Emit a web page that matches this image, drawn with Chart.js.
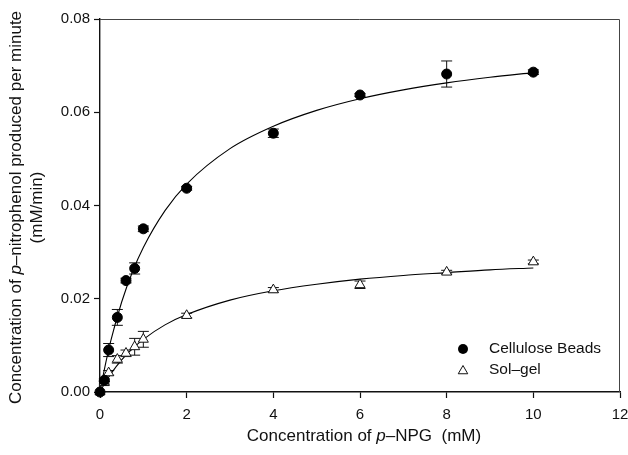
<!DOCTYPE html>
<html>
<head>
<meta charset="utf-8">
<script src="https://cdn.jsdelivr.net/npm/chart.js@4/dist/chart.umd.min.js"></script>
<style>
  html, body { margin: 0; padding: 0; background: #fff; }
  #wrap { width: 628px; height: 455px; }
</style>
</head>
<body>
<div id="wrap"><canvas id="kinetics"></canvas></div>
<script>
// substrate concentrations (mM)
const concX = [0, 0.1, 0.2, 0.4, 0.6, 0.8, 1, 2, 4, 6, 8, 10];

// measured rates (mM/min) with error bars
const celluloseY   = [0, 0.0025, 0.0090, 0.0160, 0.0239, 0.0265, 0.0350, 0.0437, 0.0555, 0.0637, 0.0682, 0.0686];
const celluloseErr = [0, 0.0003, 0.0014, 0.0017, 0.0005, 0.0012, 0.0006, 0.0004, 0.0009, 0.0003, 0.0028, 0.0005];
const solgelY      = [0, 0.0020, 0.0041, 0.0070, 0.0083, 0.0097, 0.0113, 0.0164, 0.0219, 0.0230, 0.0257, 0.0279];
const solgelErr    = [0, 0.0003, 0.0005, 0.0008, 0.0007, 0.0018, 0.0017, 0.0005, 0.0005, 0.0008, 0.0004, 0.0004];

// fitted curves
const curveX         = [0, 0.1, 0.25, 0.5, 0.75, 1, 1.5, 2, 3, 4, 5, 6, 7, 8, 9, 10];
const celluloseCurve = [0, 0.0048, 0.0110, 0.0193, 0.0258, 0.0310, 0.0389, 0.0446, 0.0522, 0.0570, 0.0604, 0.0629, 0.0648, 0.0663, 0.0675, 0.0685];
const solgelCurve    = [0, 0.0017, 0.0039, 0.0069, 0.0093, 0.0113, 0.0144, 0.0166, 0.0197, 0.0217, 0.0231, 0.0242, 0.0250, 0.0256, 0.0262, 0.0266];

const xTicks = [0, 2, 4, 6, 8, 10, 12];
const yTicks = [0, 0.02, 0.04, 0.06, 0.08];

const legendLabels = ['Cellulose Beads', 'Sol\u2013gel'];
const xTitle = [['Concentration of ', false], ['p', true], ['\u2013NPG  (mM)', false]];
const yTitle1 = [['Concentration of ', false], ['p', true], ['\u2013nitrophenol produced per minute', false]];
const yTitle2 = [['(mM/min)', false]];

const FONT = '"Liberation Sans", Arial, sans-serif';
const INK = '#111';

function pts(xs, ys) {
    return xs.map((x, i) => ({ x: x, y: ys[i] }));
}

function drawRich(ctx, parts, cx, cy, size) {
    let total = 0;
    parts.forEach(p => {
        ctx.font = (p[1] ? 'italic ' : '') + size + 'px ' + FONT;
        total += ctx.measureText(p[0]).width;
    });
    let x = cx - total / 2;
    ctx.textAlign = 'left';
    ctx.textBaseline = 'middle';
    parts.forEach(p => {
        ctx.font = (p[1] ? 'italic ' : '') + size + 'px ' + FONT;
        ctx.fillText(p[0], x, cy);
        x += ctx.measureText(p[0]).width;
    });
}

function drawTriangle(ctx, x, y, r) {
    ctx.beginPath();
    ctx.moveTo(x, y - r);
    ctx.lineTo(x + r * 0.866, y + r * 0.5);
    ctx.lineTo(x - r * 0.866, y + r * 0.5);
    ctx.closePath();
    ctx.fillStyle = '#fff';
    ctx.fill();
    ctx.stroke();
}

// error bars behind the markers
const errorBars = {
    id: 'errorBars',
    beforeDatasetsDraw(chart) {
        const ctx = chart.ctx;
        const yScale = chart.scales.y;
        ctx.save();
        ctx.strokeStyle = INK;
        ctx.lineWidth = 1;
        chart.data.datasets.forEach((ds, i) => {
            if (!ds.errors) return;
            const meta = chart.getDatasetMeta(i);
            ds.data.forEach((p, j) => {
                const e = ds.errors[j];
                if (!e) return;
                const px = meta.data[j].x;
                const top = yScale.getPixelForValue(p.y + e);
                const bot = yScale.getPixelForValue(p.y - e);
                ctx.beginPath();
                ctx.moveTo(px, top); ctx.lineTo(px, bot);
                ctx.moveTo(px - 5.5, top); ctx.lineTo(px + 5.5, top);
                ctx.moveTo(px - 5.5, bot); ctx.lineTo(px + 5.5, bot);
                ctx.stroke();
            });
        });
        ctx.restore();
    }
};

// frame, axis titles and inset legend
const decorations = {
    id: 'decorations',
    afterDraw(chart) {
        const ctx = chart.ctx;
        const a = chart.chartArea;
        ctx.save();
        ctx.strokeStyle = '#444';
        ctx.lineWidth = 1;
        ctx.beginPath();
        ctx.moveTo(a.left, a.top + 0.5);
        ctx.lineTo(a.right - 0.5, a.top + 0.5);
        ctx.lineTo(a.right - 0.5, a.bottom);
        ctx.stroke();

        ctx.fillStyle = INK;
        drawRich(ctx, xTitle, (a.left + a.right) / 2 + 4, 436, 17);

        const yc = (a.top + a.bottom) / 2 + 2;
        ctx.save();
        ctx.translate(16, yc);
        ctx.rotate(-Math.PI / 2);
        drawRich(ctx, yTitle1, 0, 0, 17);
        ctx.restore();
        ctx.save();
        ctx.translate(37, yc);
        ctx.rotate(-Math.PI / 2);
        drawRich(ctx, yTitle2, 0, 0, 17);
        ctx.restore();

        // legend
        const mx = a.right - 157;
        const tx = a.right - 131;
        const rows = [a.bottom - 43, a.bottom - 22];
        ctx.fillStyle = '#000';
        ctx.beginPath();
        ctx.arc(mx, rows[0], 5, 0, Math.PI * 2);
        ctx.fill();
        ctx.strokeStyle = INK;
        ctx.lineWidth = 1;
        drawTriangle(ctx, mx, rows[1] + 1, 5.5);
        ctx.fillStyle = INK;
        ctx.font = '15.5px ' + FONT;
        ctx.textAlign = 'left';
        ctx.textBaseline = 'middle';
        ctx.fillText(legendLabels[0], tx, rows[0]);
        ctx.fillText(legendLabels[1], tx, rows[1]);
        ctx.restore();
    }
};

const ctx = document.getElementById('kinetics').getContext('2d');

new Chart(ctx, {
    type: 'scatter',
    data: {
        datasets: [
            {
                label: legendLabels[0],
                data: pts(concX, celluloseY),
                errors: celluloseErr,
                pointStyle: 'circle',
                pointRadius: 5,
                backgroundColor: '#000',
                borderColor: '#000',
                borderWidth: 1,
                clip: false,
                order: 0
            },
            {
                label: legendLabels[1],
                data: pts(concX, solgelY),
                errors: solgelErr,
                pointStyle: 'triangle',
                pointRadius: 5.8,
                backgroundColor: '#fff',
                borderColor: INK,
                borderWidth: 1,
                clip: false,
                order: 0
            },
            {
                type: 'line',
                label: 'cellulose fit',
                data: pts(curveX, celluloseCurve),
                borderColor: '#000',
                borderWidth: 1.1,
                pointRadius: 0,
                cubicInterpolationMode: 'monotone',
                fill: false,
                order: 2
            },
            {
                type: 'line',
                label: 'sol-gel fit',
                data: pts(curveX, solgelCurve),
                borderColor: '#000',
                borderWidth: 1.1,
                pointRadius: 0,
                cubicInterpolationMode: 'monotone',
                fill: false,
                order: 2
            }
        ]
    },
    options: {
        responsive: true,
        maintainAspectRatio: false,
        animation: false,
        layout: {
            padding: { left: 0, right: 8, top: 19, bottom: 0 }
        },
        plugins: {
            legend: { display: false },
            tooltip: { enabled: false }
        },
        scales: {
            x: {
                type: 'linear',
                min: 0,
                max: 12,
                afterBuildTicks: s => { s.ticks = xTicks.map(v => ({ value: v })); },
                afterFit: s => {
                    s.height = 63;
                    s.paddingLeft = 0;
                    s.paddingRight = 0;
                },
                ticks: {
                    color: INK,
                    padding: 8,
                    font: { family: FONT, size: 15 }
                },
                grid: {
                    drawOnChartArea: false,
                    drawTicks: true,
                    tickLength: 6,
                    tickColor: INK,
                    tickWidth: 1.2
                },
                border: { display: true, color: INK, width: 1.4 }
            },
            y: {
                min: 0,
                max: 0.08,
                afterBuildTicks: s => { s.ticks = yTicks.map(v => ({ value: v })); },
                afterFit: s => {
                    s.width = 100;
                    s.paddingTop = 0;
                    s.paddingBottom = 0;
                },
                ticks: {
                    color: INK,
                    padding: 4,
                    font: { family: FONT, size: 15 },
                    callback: v => v.toFixed(2)
                },
                grid: {
                    drawOnChartArea: false,
                    drawTicks: true,
                    tickLength: 6,
                    tickColor: INK,
                    tickWidth: 1.2
                },
                border: { display: true, color: INK, width: 1.4 }
            }
        }
    },
    plugins: [errorBars, decorations]
});
</script>
</body>
</html>
